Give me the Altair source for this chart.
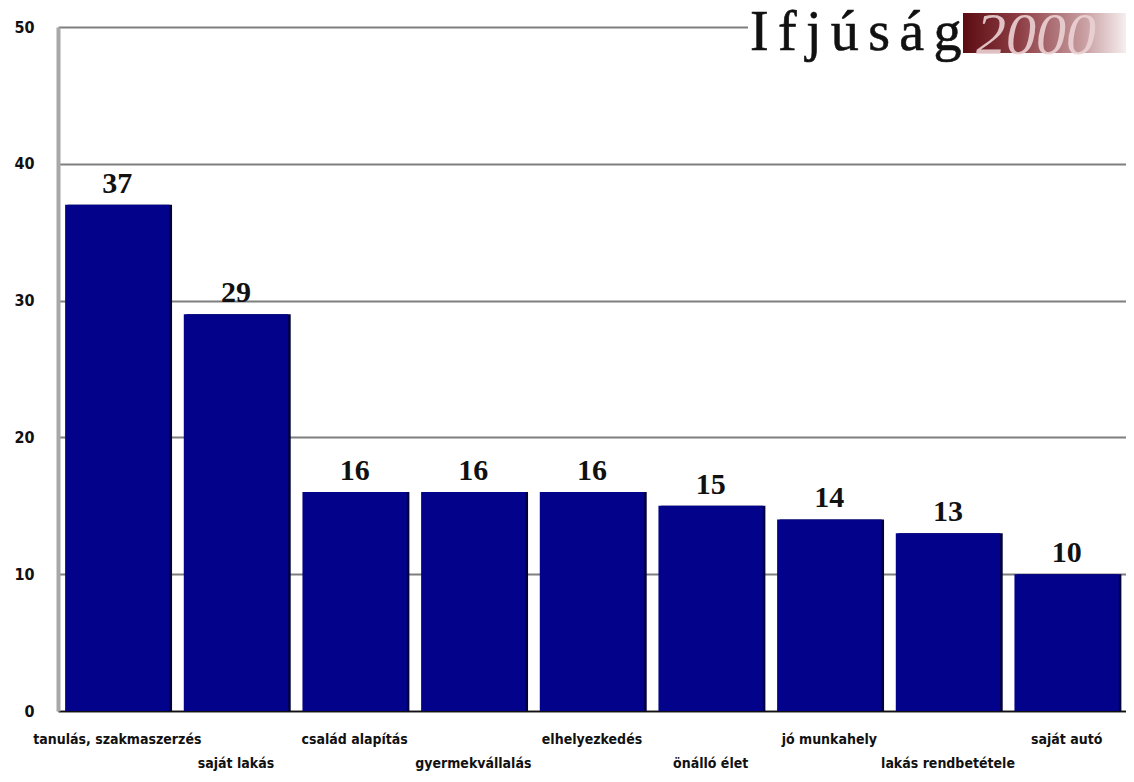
import altair as alt
import pandas as pd

categories = ["tanulás, szakmaszerzés", "saját lakás", "család alapítás", "gyermekvállalás",
              "elhelyezkedés", "önálló élet", "jó munkahely", "lakás rendbetétele", "saját autó"]
values = [37, 29, 16, 16, 16, 15, 14, 13, 10]
label_rows = [0, 1, 0, 1, 0, 1, 0, 1, 0]
y_ticks = [0, 10, 20, 30, 40, 50]
logo_word = "I\u2006f\u2006j\u2006ú\u2006s\u2006á\u2006g"
logo_year = "2000"

df = pd.DataFrame({"cat": categories, "value": values, "row": label_rows})
one = pd.DataFrame({"k": [0]})

W, H = 1068, 684
NAVY = "#03028a"

xscale = alt.Scale(paddingInner=0.12, paddingOuter=0.06)
yscale = alt.Scale(domain=[0, 50], nice=False)

x_enc = alt.X("cat:N", sort=categories, scale=xscale,
              axis=alt.Axis(labels=False, ticks=False, title=None,
                            domainColor="#111111", domainWidth=1.5))
y_enc = alt.Y("value:Q", scale=yscale,
              axis=alt.Axis(values=y_ticks, grid=True, gridColor="#7f7f7f", gridWidth=2,
                            ticks=False, domainColor="#a8a8a8", domainWidth=4,
                            labelFont="Liberation Sans Narrow, DejaVu Sans Condensed, Arial",
                            labelFontSize=16, labelFontWeight="bold", labelColor="#111111",
                            labelPadding=24, title=None))

base = alt.Chart(df)

shadow = base.mark_bar(color="#00003a", xOffset=2.5).encode(x=x_enc, y=y_enc)
bars = base.mark_bar(color=NAVY).encode(x=x_enc, y=y_enc)

val_labels = base.mark_text(font="Liberation Serif", fontSize=30, fontWeight="bold",
                            color="#111111", baseline="alphabetic", dy=-12).encode(
    x=alt.X("cat:N", sort=categories, scale=xscale),
    y=alt.Y("value:Q", scale=yscale),
    text=alt.Text("value:Q"))

cat_labels = base.transform_calculate(
    ypix=f"{H} + 29 + datum.row * 24"
).mark_text(font="Liberation Sans Narrow, DejaVu Sans Condensed, Arial", fontSize=14,
            fontWeight="bold", color="#111111", baseline="middle").encode(
    x=alt.X("cat:N", sort=categories, scale=xscale),
    y=alt.Y("ypix:Q", scale=None),
    text="cat:N")

cover = alt.Chart(one).mark_rect(color="white").encode(
    x=alt.value(690), x2=alt.value(W), y=alt.value(-5), y2=alt.value(5))

logo_box = alt.Chart(one).mark_rect(
    color=alt.LinearGradient(
        gradient="linear", x1=0, x2=1, y1=0, y2=0,
        stops=[alt.GradientStop(color="#5c0d12", offset=0),
               alt.GradientStop(color="#8e3f46", offset=0.35),
               alt.GradientStop(color="#c9a0a3", offset=0.75),
               alt.GradientStop(color="#f6eeee", offset=1)])
).encode(x=alt.value(905), x2=alt.value(W), y=alt.value(-14), y2=alt.value(26))

logo_text = alt.Chart(one).transform_calculate(t=f"'{logo_word}'").mark_text(
    font="Liberation Serif", fontSize=56, color="#111111", align="left", baseline="alphabetic",
    stroke="#111111", strokeWidth=0.6
).encode(x=alt.value(692), y=alt.value(23), text="t:N")

year_text = alt.Chart(one).transform_calculate(t=f"'{logo_year}'").mark_text(
    font="Liberation Serif", fontSize=60, fontStyle="italic", color="#ecd2d4",
    align="left", baseline="alphabetic", opacity=0.9
).encode(x=alt.value(918), y=alt.value(27), text="t:N")

chart = alt.layer(shadow, bars, val_labels, cat_labels, cover, logo_box, year_text, logo_text).properties(
    width=W, height=H,
    autosize=alt.AutoSizeParams(type="none"),
    padding={"left": 50, "top": 19, "right": 0, "bottom": 62},
    background="white",
).configure_view(stroke=None)

chart.save("out.html", embed_options={"renderer": "svg", "actions": False})
